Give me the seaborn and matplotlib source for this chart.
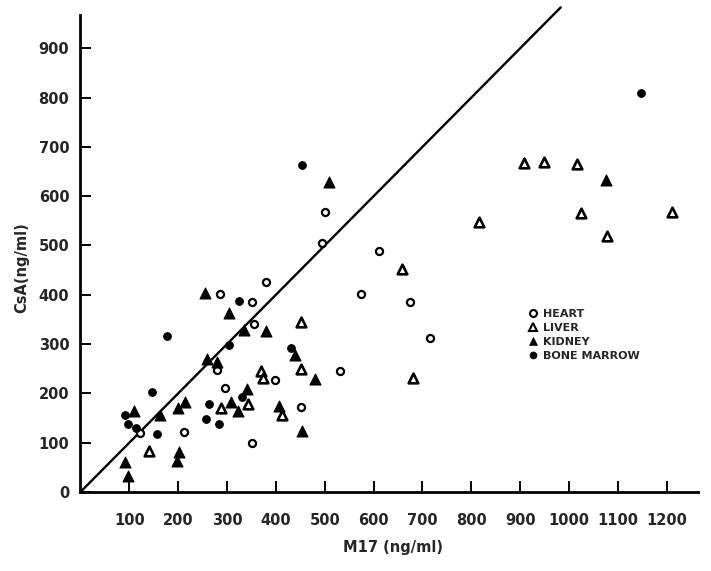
import matplotlib
matplotlib.use("Agg")
import matplotlib.pyplot as plt
import seaborn as sns
import pandas as pd
from matplotlib.lines import Line2D

# ---------------- data ----------------
heart_x = [286, 379, 351, 355, 279, 399, 532, 296, 451, 352, 211, 122, 612, 575, 674, 715, 500, 495]
heart_y = [402, 425, 385, 341, 247, 227, 246, 210, 173, 100, 121, 119, 489, 402, 385, 313, 567, 506]

liver_x = [141, 288, 342, 369, 374, 412, 452, 452, 658, 680, 816, 908, 949, 1016, 1024, 1078, 1210]
liver_y = [83, 170, 179, 246, 231, 156, 344, 249, 452, 231, 547, 667, 670, 665, 565, 519, 567]

kidney_x = [92, 98, 109, 163, 199, 214, 202, 197, 254, 305, 334, 379, 258, 279, 308, 323, 340, 406, 440, 453, 481, 509, 1075]
kidney_y = [61, 32, 164, 156, 170, 183, 82, 63, 403, 364, 328, 327, 270, 264, 183, 165, 208, 174, 277, 124, 229, 629, 633]

marrow_x = [92, 98, 113, 146, 156, 178, 257, 264, 283, 303, 324, 330, 430, 453, 1148]
marrow_y = [156, 137, 130, 203, 117, 317, 149, 178, 138, 299, 387, 193, 293, 663, 809]

identity_line = [0, 983]
x_ticks = [100, 200, 300, 400, 500, 600, 700, 800, 900, 1000, 1100, 1200]
y_ticks = [0, 100, 200, 300, 400, 500, 600, 700, 800, 900]
groups = ["HEART", "LIVER", "KIDNEY", "BONE MARROW"]

df = pd.concat([
    pd.DataFrame({"M17": heart_x, "CsA": heart_y, "tissue": "HEART"}),
    pd.DataFrame({"M17": liver_x, "CsA": liver_y, "tissue": "LIVER"}),
    pd.DataFrame({"M17": kidney_x, "CsA": kidney_y, "tissue": "KIDNEY"}),
    pd.DataFrame({"M17": marrow_x, "CsA": marrow_y, "tissue": "BONE MARROW"}),
])

sns.set_style("ticks")
plt.rcParams["font.family"] = ["DejaVu Sans"]

fig = plt.figure(figsize=(7.11, 5.71), dpi=100)
ax = fig.add_axes([0.1132, 0.1384, 0.8726, 0.859])

styles = {
    "HEART": dict(marker="o", s=26, facecolor="white", edgecolor="black", linewidth=1.6),
    "LIVER": dict(marker="^", s=48, facecolor="white", edgecolor="black", linewidth=1.9),
    "KIDNEY": dict(marker="^", s=62, facecolor="black", edgecolor="black", linewidth=0.8),
    "BONE MARROW": dict(marker="o", s=30, facecolor="black", edgecolor="black", linewidth=0.8),
}

for g in groups:
    sub = df[df["tissue"] == g]
    sns.scatterplot(data=sub, x="M17", y="CsA", ax=ax, legend=False, zorder=3, **styles[g])

ax.plot(identity_line, identity_line, color="black", linewidth=1.7, zorder=2)

ax.set_xlim(0, 1270)
ax.set_ylim(0, 995)
ax.set_xticks(x_ticks)
ax.set_xticklabels([str(v) for v in x_ticks], fontweight="bold", fontsize=10.5)
ax.set_yticks(y_ticks)
ax.set_yticklabels([str(v) for v in y_ticks], fontweight="bold", fontsize=10.5)
ax.tick_params(axis="both", direction="in", length=8, width=1.4, color="black")
ax.tick_params(axis="x", pad=15)
ax.tick_params(axis="y", pad=8)

for side in ["top", "right"]:
    ax.spines[side].set_visible(False)
for side in ["left", "bottom"]:
    ax.spines[side].set_linewidth(2)
    ax.spines[side].set_color("black")
ax.spines["bottom"].set_bounds(0, 1265)
ax.spines["left"].set_bounds(0, 968)

ax.set_xlabel("M17 (ng/ml)", fontweight="bold", fontsize=10.5)
ax.set_ylabel("CsA(ng/ml)", fontweight="bold", fontsize=10.5)
ax.xaxis.set_label_coords(0.504, -0.098)
ax.yaxis.set_label_coords(-0.083, 0.457)

handles = []
for g in groups:
    st = styles[g]
    handles.append(Line2D([0], [0], linestyle="none", marker=st["marker"],
                          markersize=5.5 if st["marker"] == "^" else 5,
                          markerfacecolor=st["facecolor"], markeredgecolor="black",
                          markeredgewidth=1.5 if st["facecolor"] == "white" else 0.5,
                          label=g))
leg = ax.legend(handles=handles, loc="upper left", bbox_to_anchor=(0.736, 0.468),
                bbox_transform=fig.transFigure, frameon=False, borderpad=0,
                handlelength=0.8, handletextpad=0.5, labelspacing=0.35,
                prop={"weight": "bold", "size": 8})

fig.savefig("out.png", dpi=100)
